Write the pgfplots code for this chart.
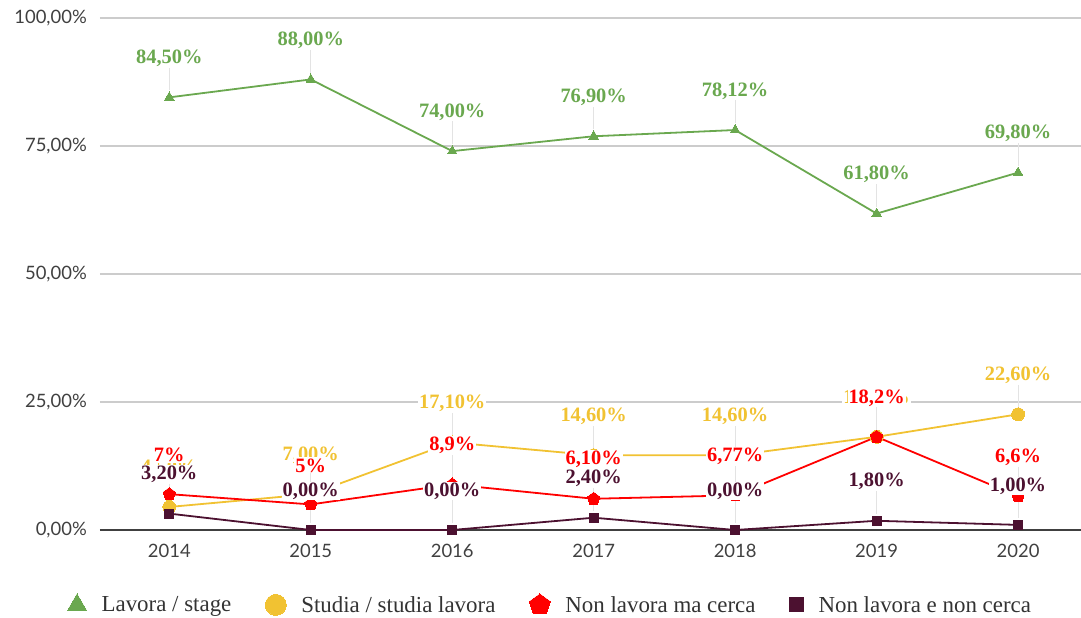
\documentclass[border=0pt]{standalone}
\usepackage{pgfplots}
\pgfplotsset{compat=1.18}
\usetikzlibrary{plotmarks}
\usepackage{fontspec}
\setmainfont{Liberation Serif}
\newfontfamily\lato{Lato}
\definecolor{cgreen}{HTML}{6AA84F}
\definecolor{cyellow}{HTML}{F1C232}
\definecolor{cred}{HTML}{FF0000}
\definecolor{cdark}{HTML}{4C1130}
\definecolor{cgrid}{HTML}{CCCCCC}
\definecolor{clead}{HTML}{E3E3E3}
\begin{document}
\begin{tikzpicture}
\begin{axis}[
  scale only axis, width=981bp, height=512bp,
  xmin=-0.49, xmax=6.445, ymin=0, ymax=100,
  xtick={0,...,6}, xticklabels={2014,2015,2016,2017,2018,2019,2020},
  ytick={0,25,50,75,100}, yticklabels={0{,}00\%,25{,}00\%,50{,}00\%,75{,}00\%,100{,}00\%},
  axis x line*=bottom, axis y line*=left,
  y axis line style={draw=none},
  x axis line style={draw=black!75, line width=1.8bp},
  major tick length=0pt,
  ymajorgrids, grid style={draw=cgrid, line width=1.2bp},
  tick label style={font=\lato\fontsize{18.5}{21}\selectfont, text=black!75},
  xticklabel style={yshift=-10bp},
  yticklabel style={xshift=-9bp},
  clip=false,
  line width=1.8bp,
  point meta=explicit symbolic,
  legend style={at={(0.459,-0.146)}, anchor=center, draw=none, legend columns=4,
    font=\fontsize{23}{25}\selectfont, text=black!80,
    /tikz/every even column/.append style={column sep=32bp},
    /tikz/every odd column/.append style={column sep=13bp}},
  legend image code/.code={\draw[#1, line width=0pt] plot coordinates {(0.3cm,0cm)};},
  lead/.style={draw=none, forget plot, nodes near coords={\textcolor{clead}{\rule{1bp}{24bp}}},
     every node near coord/.append style={anchor=south, inner sep=0pt, yshift=6bp}},
  lab/.style={nodes near coords={\pgfplotspointmeta},
     every node near coord/.append style={anchor=center, yshift=39bp, inner sep=1pt, fill=white,
       font=\bfseries\fontsize{20.5}{22}\selectfont, text=#1}},
]
% leader lines
\addplot[lead] coordinates {(0,84.5)[a] (1,88)[a] (2,74)[a] (3,76.9)[a] (4,78.12)[a] (5,61.8)[a] (6,69.8)[a]};
\addplot[lead] coordinates {(0,4.5)[a] (1,7)[a] (2,17.1)[a] (3,14.6)[a] (4,14.6)[a] (5,18.2)[a] (6,22.6)[a]};
\addplot[lead] coordinates {(0,7)[a] (1,5)[a] (2,8.9)[a] (3,6.1)[a] (4,6.77)[a] (5,18.2)[a] (6,6.6)[a]};
\addplot[lead] coordinates {(0,3.2)[a] (1,0)[a] (2,0)[a] (3,2.4)[a] (4,0)[a] (5,1.8)[a] (6,1.0)[a]};
% series
\addplot[color=cgreen, mark=triangle*, mark size=5.5bp, mark options={line width=0pt}, lab=cgreen,
  legend image post style={mark size=11bp}]
 coordinates {(0,84.5)[84,50\%] (1,88)[88,00\%] (2,74)[74,00\%] (3,76.9)[76,90\%] (4,78.12)[78,12\%] (5,61.8)[61,80\%] (6,69.8)[69,80\%]};
\addlegendentry{Lavora / stage}
\addplot[color=cyellow, mark=*, mark size=6.5bp, mark options={line width=0pt}, lab=cyellow,
  legend image post style={mark size=10.5bp}]
 coordinates {(0,4.5)[4,50\%] (1,7)[7,00\%] (2,17.1)[17,10\%] (3,14.6)[14,60\%] (4,14.6)[14,60\%] (5,18.2)[18,20\%] (6,22.6)[22,60\%]};
\addlegendentry{Studia / studia lavora}
\addplot[color=cred, mark=pentagon*, mark size=6.5bp, mark options={line width=0pt}, lab=cred,
  legend image post style={mark size=11bp}]
 coordinates {(0,7)[7\%] (1,5)[5\%] (2,8.9)[8,9\%] (3,6.1)[6,10\%] (4,6.77)[6,77\%] (5,18.2)[18,2\%] (6,6.6)[6,6\%]};
\addlegendentry{Non lavora ma cerca}
\addplot[color=cdark, mark=square*, mark size=4.5bp, mark options={line width=0pt}, lab=cdark,
  legend image post style={mark size=7bp}]
 coordinates {(0,3.2)[3,20\%] (1,0)[0,00\%] (2,0)[0,00\%] (3,2.4)[2,40\%] (4,0)[0,00\%] (5,1.8)[1,80\%] (6,1.0)[1,00\%]};
\addlegendentry{Non lavora e non cerca}
\coordinate (o) at (rel axis cs:0,0);
\end{axis}
\pgfresetboundingbox
\path (o) ++(-100bp,-88bp) rectangle ++(1081bp,618bp);
\end{tikzpicture}
\end{document}
